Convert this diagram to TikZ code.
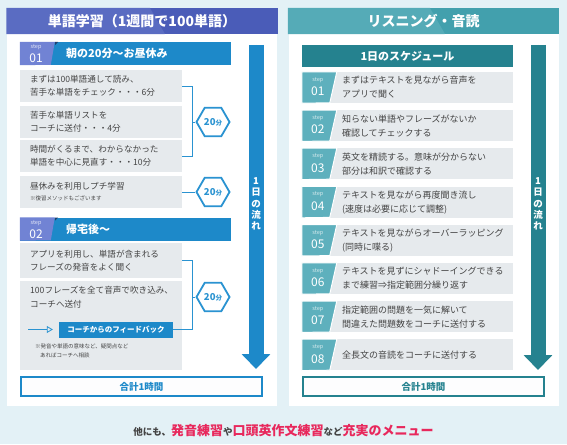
\documentclass[tikz,border=0pt]{standalone}
\usepackage{fontspec}
\setmainfont{Noto Sans CJK JP}
\usepackage{tikz}
\usetikzlibrary{arrows.meta,positioning,shapes.geometric}

\definecolor{bgpale}{HTML}{E3F1F6}
\definecolor{hdrblue}{HTML}{4A5CB8}
\definecolor{hdrbluelt}{HTML}{5A6CC2}
\definecolor{tagblue}{HTML}{7183D4}
\definecolor{stepblue}{HTML}{1D89C9}
\definecolor{hexblue}{HTML}{2A93D1}
\definecolor{boxgray}{HTML}{E6EAED}
\definecolor{txtgray}{HTML}{444444}
\definecolor{hdrteal}{HTML}{42A0AD}
\definecolor{hdrteallt}{HTML}{55ABB7}
\definecolor{tealdark}{HTML}{25828F}
\definecolor{tagteal}{HTML}{5EB0BD}
\definecolor{notchdark}{HTML}{1E3F6E}
\definecolor{accent}{HTML}{E8285C}

\newcommand{\hilite}[1]{{\color{accent}\fontsize{13}{15}\selectfont\bfseries #1}}
\newcommand{\bun}{{\fontsize{6.5}{7}\selectfont 分}}

\begin{document}
\begin{tikzpicture}[x=1pt,y=-1pt,
        card/.style={fill=white, minimum width=270pt, minimum height=398pt, inner sep=0pt},
        hdrbar/.style={minimum width=271pt, minimum height=26pt, inner sep=0pt},
        hdrtxt/.style={text=white, font=\fontsize{14}{16}\selectfont\bfseries},
        stephdr/.style={fill=stepblue, minimum width=211pt, minimum height=23pt, inner sep=0pt},
        stephtxt/.style={text=white, font=\fontsize{11}{13}\selectfont\bfseries, inner sep=0pt},
        steplbl/.style={font=\fontsize{5.5}{6}\selectfont, inner sep=0pt},
        stepnum/.style={text=white, font=\fontsize{12}{13}\selectfont, inner sep=0pt},
        gbox/.style={fill=boxgray, minimum width=162pt, inner xsep=10pt, text width=142pt,
            align=left, text=txtgray, font=\fontsize{8.6}{13}\selectfont},
        note/.style={text=txtgray, align=left, inner sep=0pt, font=\fontsize{5.5}{9}\selectfont},
        hexa/.style={regular polygon, regular polygon sides=6, minimum size=33pt, inner sep=0pt,
            draw=hexblue, line width=1.8pt, fill=white, text=hexblue, font=\fontsize{9.5}{10}\selectfont\bfseries},
        brk/.style={draw=hexblue, line width=0.8pt},
        fbbox/.style={fill=stepblue, minimum width=114pt, minimum height=16pt, inner sep=0pt,
            text=white, font=\fontsize{7.5}{8}\selectfont\bfseries},
        fbarrow/.style={draw=hexblue, line width=0.8pt, -{Triangle[open, length=6pt, width=7pt]}, shorten >=6pt},
        flow/.style={line width=15pt, -{Triangle[length=15pt, width=28pt]}},
        flowtxt/.style={text=white, align=center, inner sep=0pt, font=\fontsize{9.5}{11.2}\selectfont\bfseries},
        total/.style={fill=white!92!boxgray, line width=1.8pt, minimum width=241pt, minimum height=19pt,
            inner sep=0pt, font=\fontsize{9.5}{10}\selectfont\bfseries},
        schhdr/.style={fill=tealdark, minimum width=211pt, minimum height=22pt, inner sep=0pt,
            text=white, font=\fontsize{11}{13}\selectfont\bfseries},
        row/.style={fill=boxgray, minimum width=211pt, minimum height=31pt, inner sep=0pt},
        rtxt/.style={anchor=west, align=left, inner sep=0pt, text=txtgray, font=\fontsize{9}{14}\selectfont},
        tag/.style={fill=tagteal, draw=white, line width=1pt}
    ]
        \useasboundingbox[fill=bgpale] (0,0) rectangle (567,444);

        % left panel
        \node[card] (pl) at (142,207) {};
        \node[hdrbar, fill=hdrblue] (hl) at (142,21) {};
        \fill[hdrbluelt] (hl.north west) -- (150,8) -- (165,34) -- (hl.south west) -- cycle;
        \node[hdrtxt] at (hl) {単語学習（1週間で100単語）};

        \node[stephdr] (s1) at (125.5,53.5) {};
        \fill[tagblue] (s1.north west) -- ++(35,0) -- ++(-4,23) -- (s1.south west) -- cycle;
        \fill[notchdark] (55,42) -- (58,42) -- (55,45) -- cycle;
        \node[steplbl, text=white!80!tagblue] at (36,47.5) {step};
        \node[stepnum] at (36,58.5) {01};
        \node[stephtxt, anchor=west] at (66,53.5) {朝の20分～お昼休み};

        \node[gbox, minimum height=32pt] (b1) at (101,86) {まずは100単語通して読み、\\苦手な単語をチェック・・・6分};
        \node[gbox, minimum height=32pt] (b2) at (101,122) {苦手な単語リストを\\コーチに送付・・・4分};
        \node[gbox, minimum height=32pt] (b3) at (101,156) {時間がくるまで、わからなかった\\単語を中心に見直す・・・10分};
        \node[gbox, minimum height=32pt] (b4) at (101,192) {昼休みを利用しプチ学習\\[-2pt]{\fontsize{5.5}{8}\selectfont ※復習メソッドもございます}};

        \node[hexa] (h1) at (213,122) {20\bun};
        \node[hexa] (h2) at (213,192) {20\bun};
        \coordinate (m1) at (192,122);
        \draw[brk] (b1.east) -- ++(10,0) |- (b3.east);
        \draw[brk] (m1) -- (h1.west);
        \draw[brk] (b4.east) -- (h2.west);

        \node[stephdr] (s2) at (125.5,229) {};
        \fill[tagblue] (s2.north west) -- ++(35,0) -- ++(-4,23) -- (s2.south west) -- cycle;
        \fill[notchdark] (55,217.5) -- (58,217.5) -- (55,220.5) -- cycle;
        \node[steplbl, text=white!80!tagblue] at (36,223) {step};
        \node[stepnum] at (36,234) {02};
        \node[stephtxt, anchor=west] at (66,229) {帰宅後～};

        \node[gbox, minimum height=35pt] (b5) at (101,260.5) {アプリを利用し、単語が含まれる\\フレーズの発音をよく聞く};
        \node[gbox, minimum height=89pt] (b6) at (101,325.5) {};
        \node[note, anchor=north west, font=\fontsize{8.6}{13.5}\selectfont] (b6t) at (30,286) {100フレーズを全て音声で吹き込み、\\コーチへ送付};
        \node[fbbox] (fb) at (116,329.5) {コーチからのフィードバック};
        \coordinate (fbs) at (28,329.5);
        \draw[fbarrow] (fbs) -- (fb.west);
        \node[note, anchor=north west] (b6n) at (35,344) {※発音や単語の意味など、疑問点など\\\hspace*{5pt}あればコーチへ相談};

        \node[hexa] (h3) at (213,297) {20\bun};
        \coordinate (m2) at (192,297);
        \draw[brk] (b5.east) -- ++(10,0) |- (fb.east);
        \draw[brk] (m2) -- (h3.west);

        \coordinate (a1s) at (256,45);
        \coordinate (a1e) at (256,369);
        \draw[flow, draw=stepblue, fill=stepblue] (a1s) -- (a1e);
        \node[flowtxt] (a1t) at (256,204) {1\\日\\の\\流\\れ};

        \node[total, draw=stepblue, text=stepblue] (t1) at (141.5,386.5) {合計1時間};

        % right panel
        \node[card] (pr) at (423.5,207) {};
        \node[hdrbar, fill=hdrteal] (hr) at (423.5,21) {};
        \fill[hdrteallt] (hr.north west) -- (430,8) -- (445,34) -- (hr.south west) -- cycle;
        \node[hdrtxt] at (hr) {リスニング・音読};

        \node[schhdr] (sh) at (407.5,56) {1日のスケジュール};

        \node[row] (r1) at (407.5,87.5) {};
        \node[row] (r2) at (407.5,125.7) {};
        \node[row] (r3) at (407.5,163.9) {};
        \node[row] (r4) at (407.5,202.1) {};
        \node[row] (r5) at (407.5,240.3) {};
        \node[row] (r6) at (407.5,278.5) {};
        \node[row] (r7) at (407.5,316.7) {};
        \node[row] (r8) at (407.5,354.9) {};

        \draw[tag] (r1.north west) -- ++(35,0) -- ++(-7,31) -- (r1.south west) -- cycle;
        \draw[tag] (r2.north west) -- ++(35,0) -- ++(-7,31) -- (r2.south west) -- cycle;
        \draw[tag] (r3.north west) -- ++(35,0) -- ++(-7,31) -- (r3.south west) -- cycle;
        \draw[tag] (r4.north west) -- ++(35,0) -- ++(-7,31) -- (r4.south west) -- cycle;
        \draw[tag] (r5.north west) -- ++(35,0) -- ++(-7,31) -- (r5.south west) -- cycle;
        \draw[tag] (r6.north west) -- ++(35,0) -- ++(-7,31) -- (r6.south west) -- cycle;
        \draw[tag] (r7.north west) -- ++(35,0) -- ++(-7,31) -- (r7.south west) -- cycle;
        \draw[tag] (r8.north west) -- ++(35,0) -- ++(-7,31) -- (r8.south west) -- cycle;

        \node[steplbl, text=white!75!tagteal] at ([shift={(16,-7.5)}]r1.west) {step};
        \node[stepnum] at ([shift={(16,4)}]r1.west) {01};
        \node[steplbl, text=white!75!tagteal] at ([shift={(16,-7.5)}]r2.west) {step};
        \node[stepnum] at ([shift={(16,4)}]r2.west) {02};
        \node[steplbl, text=white!75!tagteal] at ([shift={(16,-7.5)}]r3.west) {step};
        \node[stepnum] at ([shift={(16,4)}]r3.west) {03};
        \node[steplbl, text=white!75!tagteal] at ([shift={(16,-7.5)}]r4.west) {step};
        \node[stepnum] at ([shift={(16,4)}]r4.west) {04};
        \node[steplbl, text=white!75!tagteal] at ([shift={(16,-7.5)}]r5.west) {step};
        \node[stepnum] at ([shift={(16,4)}]r5.west) {05};
        \node[steplbl, text=white!75!tagteal] at ([shift={(16,-7.5)}]r6.west) {step};
        \node[stepnum] at ([shift={(16,4)}]r6.west) {06};
        \node[steplbl, text=white!75!tagteal] at ([shift={(16,-7.5)}]r7.west) {step};
        \node[stepnum] at ([shift={(16,4)}]r7.west) {07};
        \node[steplbl, text=white!75!tagteal] at ([shift={(16,-7.5)}]r8.west) {step};
        \node[stepnum] at ([shift={(16,4)}]r8.west) {08};

        \node[rtxt] at ([xshift=40pt]r1.west) {まずはテキストを見ながら音声を\\アプリで聞く};
        \node[rtxt] at ([xshift=40pt]r2.west) {知らない単語やフレーズがないか\\確認してチェックする};
        \node[rtxt] at ([xshift=40pt]r3.west) {英文を精読する。意味が分からない\\部分は和訳で確認する};
        \node[rtxt] at ([xshift=40pt]r4.west) {テキストを見ながら再度聞き流し\\(速度は必要に応じて調整)};
        \node[rtxt] at ([xshift=40pt]r5.west) {テキストを見ながらオーバーラッピング\\(同時に喋る)};
        \node[rtxt] at ([xshift=40pt]r6.west) {テキストを見ずにシャドーイングできる\\まで練習⇒指定範囲分繰り返す};
        \node[rtxt] at ([xshift=40pt]r7.west) {指定範囲の問題を一気に解いて\\間違えた問題数をコーチに送付する};
        \node[rtxt] at ([xshift=40pt]r8.west) {全長文の音読をコーチに送付する};

        \coordinate (a2s) at (538,45);
        \coordinate (a2e) at (538,370);
        \draw[flow, draw=tealdark, fill=tealdark] (a2s) -- (a2e);
        \node[flowtxt] (a2t) at (538,204) {1\\日\\の\\流\\れ};

        \node[total, draw=tealdark, text=tealdark] (t2) at (423.5,386.5) {合計1時間};

        % footer
        \node[text=txtgray, font=\fontsize{9.5}{15}\selectfont\bfseries] (ft) at (283.5,431)
            {他にも、\hilite{発音練習}や\hilite{口頭英作文練習}など\hilite{充実のメニュー}};
    \end{tikzpicture}
\end{document}
